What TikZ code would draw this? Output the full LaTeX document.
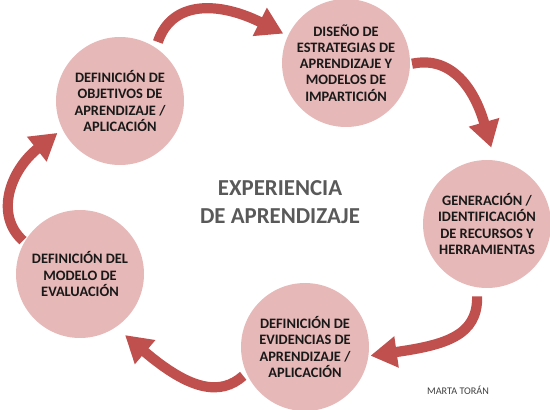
\documentclass[tikz,border=0pt]{standalone}
\usepackage{fontspec}
\setmainfont{Carlito}
\usepackage{tikz}
\usetikzlibrary{arrows.meta}
\definecolor{circlepink}{HTML}{E6B8B7}
\definecolor{arrowred}{HTML}{C0504D}
\definecolor{titlegray}{HTML}{595959}
\tikzstyle{vertex}=[
	circle,
	fill=circlepink,
	minimum size=2.56cm,
	inner sep=0pt,
	align=center,
	text=black!90,
	font=\fontsize{8.2}{9.2}\selectfont\bfseries
]
\tikzstyle{edge}=[
	draw=arrowred,
	line width=5.8pt,
	-{Triangle[width=17pt,length=15pt]}
]
\tikzstyle{title}=[
	align=center,
	text=titlegray,
	font=\fontsize{13}{15.9}\selectfont\bfseries
]
\tikzstyle{signature}=[
	text=black!75,
	font=\fontsize{5.8}{7}\selectfont
]

\begin{document}
\begin{tikzpicture}[x=0.02cm,y=-0.02cm]
\useasboundingbox (0,0) rectangle (550,409);

\node[vertex] (1) at (120,101) {DEFINICIÓN DE\\OBJETIVOS DE\\APRENDIZAJE /\\APLICACIÓN};
\node[vertex] (2) at (346,63) {DISEÑO DE\\ESTRATEGIAS DE\\APRENDIZAJE Y\\MODELOS DE\\IMPARTICIÓN};
\node[vertex] (3) at (487,224) {GENERACIÓN /\\IDENTIFICACIÓN\\DE RECURSOS Y\\HERRAMIENTAS};
\node[vertex] (4) at (305,347) {DEFINICIÓN DE\\EVIDENCIAS DE\\APRENDIZAJE /\\APLICACIÓN};
\node[vertex] (5) at (80,274) {DEFINICIÓN DEL\\MODELO DE\\EVALUACIÓN};

\node[title] (centre) at (280,202) {EXPERIENCIA\\DE APRENDIZAJE};
\node[signature] (author) at (458,390) {MARTA TORÁN};

% cycle
\draw[edge, shorten <=3.4pt, shorten >=2.8pt] (1.56) .. controls +(16,-48) and +(-68,-34) .. (2.155);
\draw[edge, shorten <=1pt, shorten >=7.4pt] (2.-1) .. controls +(42,-9) and +(-20,-70) .. (3.83);
\draw[edge, shorten <=5pt, shorten >=1pt] (3.-99) .. controls +(1,48) and +(77,-11) .. (4.-8);
\draw[edge, shorten <=2.3pt, shorten >=6.8pt] (4.204) .. controls +(-26,23) and +(74,63) .. (5.-56);
\draw[edge, shorten <=1pt, shorten >=3.4pt] (5.150) .. controls +(-30,-27) and +(-52,41) .. (1.206);

\end{tikzpicture}
\end{document}
